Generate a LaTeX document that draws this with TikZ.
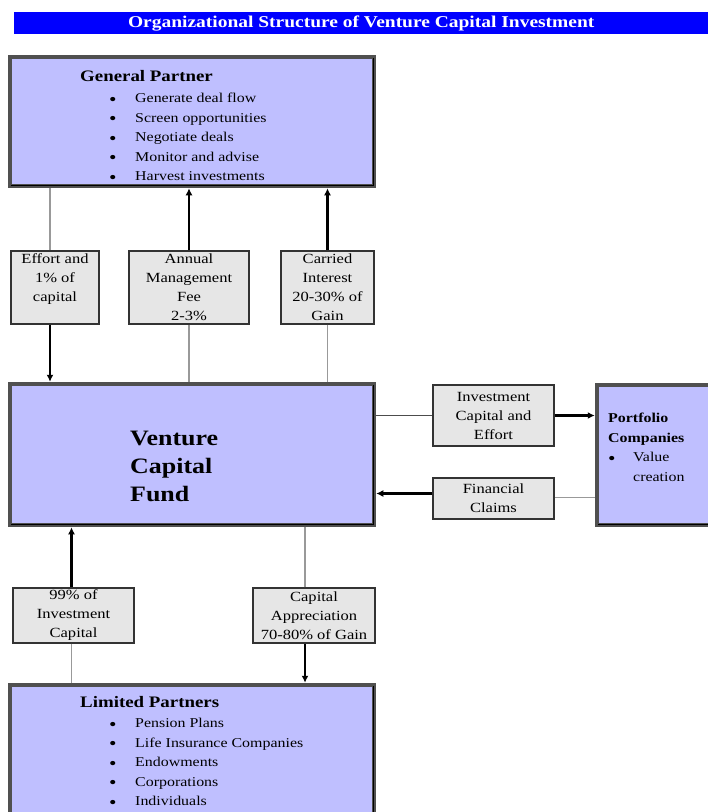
\documentclass[tikz,border=0pt]{standalone}
\usepackage{fontspec}
\setmainfont{Liberation Serif}[FakeStretch=1.18]
\usepackage{tikz}
\usetikzlibrary{arrows.meta}
\definecolor{VcBlue}{HTML}{0000FF}
\definecolor{VcLav}{HTML}{BFBFFF}
\definecolor{VcGrey}{HTML}{E6E6E6}
\definecolor{VcFrame}{HTML}{505050}
\newcommand{\vcdot}{\raisebox{-2.5pt}{\fontsize{18}{18}\selectfont\textbullet}}
\newcommand{\vcitem}{\hspace*{29pt}\makebox[26pt][l]{\vcdot}}

\begin{document}
\begin{tikzpicture}[x=1pt, y=-1pt,
    bigbox/.style={draw=VcFrame, line width=4.5pt, fill=VcLav, inner sep=0pt},
    smallbox/.style={draw=black!80, line width=1.3pt, fill=VcGrey, align=center, inner sep=0pt, font=\fontsize{14}{19}\selectfont},
    flow/.style={-{Latex[length=7pt,width=7pt]}, line width=2.2pt},
    link/.style={draw=black!40, line width=1.2pt}]
  \useasboundingbox (0,0) rectangle (708,812);

  % title bar
  \node[fill=VcBlue, text=white, minimum width=694pt, minimum height=22pt, inner sep=0pt, anchor=north west, font=\fontsize{16.5}{18}\selectfont\bfseries] (title) at (14,12) {Organizational Structure of Venture Capital Investment};

  % main boxes
  \node[bigbox, minimum width=364pt, minimum height=129pt] (gp) at (192,121.5) {};
  \node[bigbox, minimum width=364pt, minimum height=141pt] (vcf) at (192,454.5) {};
  \node[bigbox, minimum width=364pt, minimum height=145pt] (lp) at (192,757.5) {};
  \node[bigbox, minimum width=123pt, minimum height=140pt] (pc) at (658.5,455) {};
  \foreach \b in {gp,vcf,lp,pc}
    \draw[black, line width=1.2pt] ([xshift=-3pt,yshift=-3pt]\b.north east) |- ([xshift=3pt,yshift=3pt]\b.south west);

  \node[anchor=north west, align=left, inner sep=0pt, font=\fontsize{13.5}{19.5}\selectfont] (gptext) at (80,70)
    {{\fontsize{16}{19.5}\selectfont\bfseries General Partner}\\[2pt]
     \vcitem Generate deal flow\\
     \vcitem Screen opportunities\\
     \vcitem Negotiate deals\\
     \vcitem Monitor and advise\\
     \vcitem Harvest investments};
  \node[anchor=west, align=left, inner sep=0pt, font=\fontsize{22}{28}\selectfont\bfseries] (vcftext) at (130,466) {Venture\\Capital\\Fund};
  \node[anchor=north west, align=left, inner sep=0pt, font=\fontsize{13.5}{19.5}\selectfont] (lptext) at (80,696)
    {{\fontsize{16}{19.5}\selectfont\bfseries Limited Partners}\\[1pt]
     \vcitem Pension Plans\\
     \vcitem Life Insurance Companies\\
     \vcitem Endowments\\
     \vcitem Corporations\\
     \vcitem Individuals};
  \node[anchor=north west, align=left, inner sep=0pt, font=\fontsize{13.5}{19.5}\selectfont] (pctext) at (608,413)
    {\textbf{Portfolio}\\
     \textbf{Companies}\\
     \makebox[25pt][l]{\vcdot}Value\\
     \hspace*{25pt}creation};

  % flow boxes
  \node[smallbox, minimum width=88pt, minimum height=73pt] (eff) at (55,287.5) {Effort and\\1\% of\\capital\\~};
  \node[smallbox, minimum width=120pt, minimum height=73pt] (fee) at (189,287.5) {Annual\\Management\\Fee\\2-3\%};
  \node[smallbox, minimum width=93pt, minimum height=73pt] (car) at (327.5,287.5) {Carried\\Interest\\20-30\% of\\Gain};
  \node[smallbox, minimum width=121pt, minimum height=61pt] (ice) at (493.5,415.5) {Investment\\Capital and\\Effort};
  \node[smallbox, minimum width=121pt, minimum height=41pt] (fin) at (493.5,498.5) {Financial\\Claims};
  \node[smallbox, minimum width=121pt, minimum height=55pt] (inv) at (73.5,615.5) {99\% of\\Investment\\Capital};
  \node[smallbox, minimum width=122pt, minimum height=55pt] (app) at (314,615.5) {Capital\\Appreciation\\70-80\% of Gain};

  % connectors
  \draw[link] ([xshift=-5pt]eff.north) -- ([xshift=-5pt]eff.north |- gp.south);
  \draw[flow] (fee.north) -- (fee.north |- gp.south);
  \draw[flow] (car.north) -- (car.north |- gp.south);
  \draw[flow] ([xshift=-5pt]eff.south) -- ([xshift=-5pt]eff.south |- vcf.north);
  \draw[link] (fee.south) -- (fee.south |- vcf.north);
  \draw[link] (car.south) -- (car.south |- vcf.north);
  \draw[link, draw=black!70] (vcf.east |- ice.west) -- (ice.west);
  \draw[flow] (ice.east) -- (ice.east -| pc.west);
  \draw[flow] ([yshift=5pt]fin.west) -- ([yshift=5pt]fin.west -| vcf.east);
  \draw[link] ([yshift=1pt]pc.west |- fin.east) -- ([yshift=1pt]fin.east);
  \draw[flow] ([xshift=-2pt]inv.north) -- ([xshift=-2pt]inv.north |- vcf.south);
  \draw[link] ([xshift=-9pt]app.north) -- ([xshift=-9pt]app.north |- vcf.south);
  \draw[link] ([xshift=-2pt]inv.south) -- ([xshift=-2pt]inv.south |- lp.north);
  \draw[flow] ([xshift=-9pt]app.south) -- ([xshift=-9pt]app.south |- lp.north);
\end{tikzpicture}
\end{document}
